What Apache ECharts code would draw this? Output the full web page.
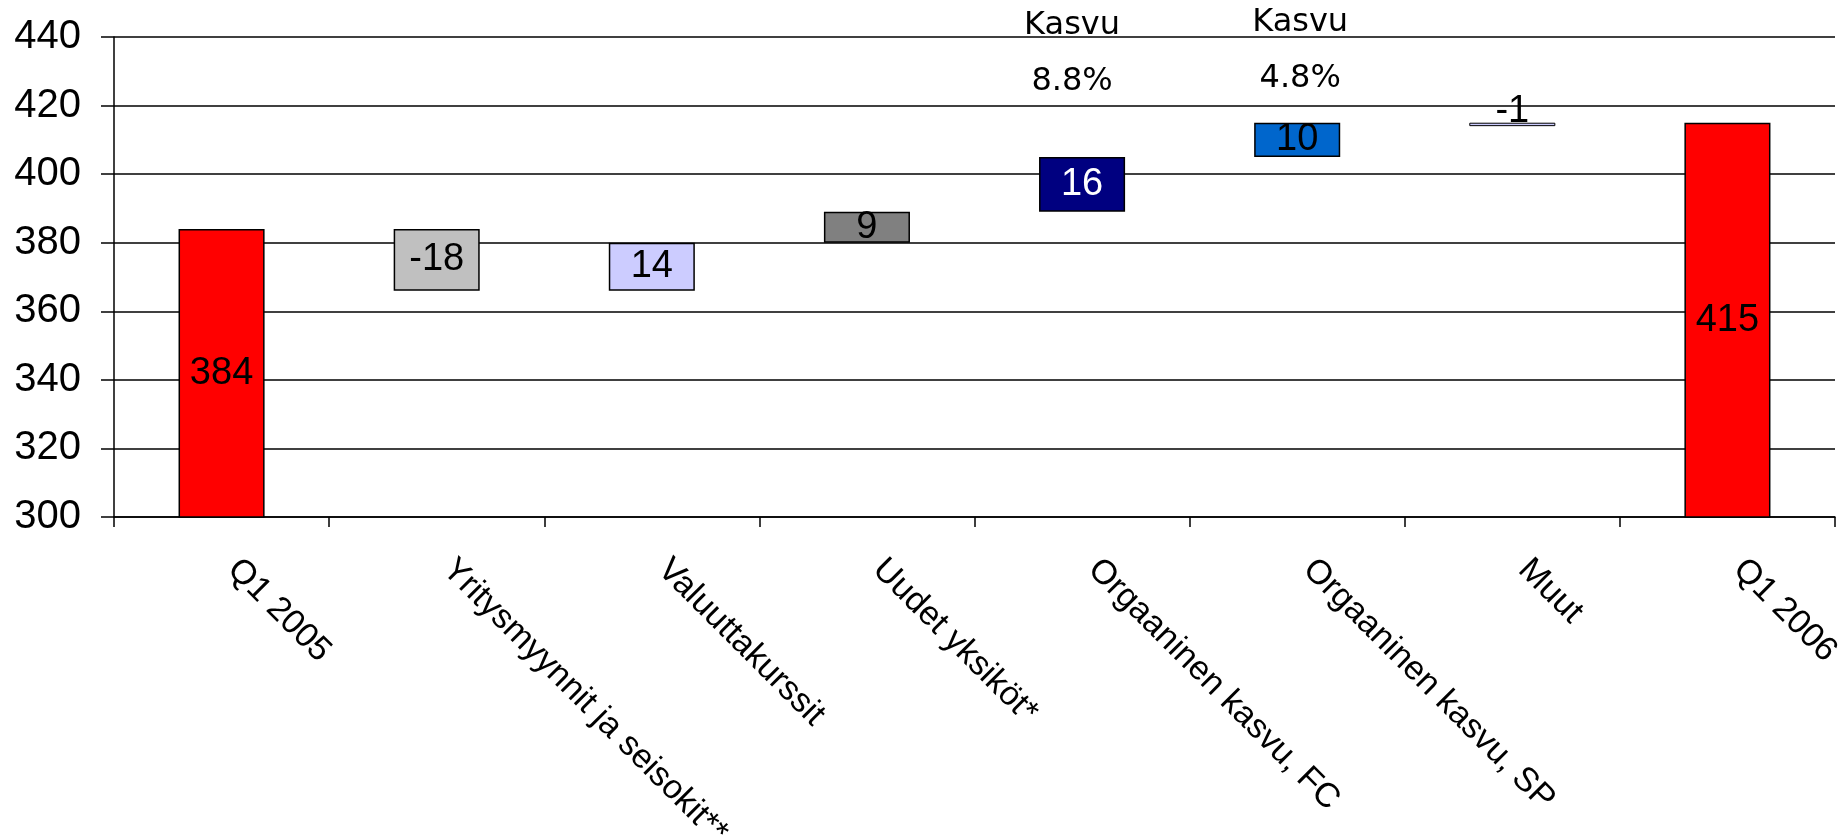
<!DOCTYPE html>
<html>
<head>
<meta charset="utf-8">
<script src="https://cdn.jsdelivr.net/npm/echarts@6/dist/echarts.min.js"></script>
<style>
html,body{margin:0;padding:0;background:#fff;}
#chart{width:1842px;height:835px;}
</style>
</head>
<body>
<div id="chart"></div>
<script>
// ---- data ----
const categories = ['Q1 2005', 'Yritysmyynnit ja seisokit**', 'Valuuttakurssit', 'Uudet yksiköt*', 'Orgaaninen kasvu, FC', 'Orgaaninen kasvu, SP', 'Muut', 'Q1 2006'];
const changes = [384, -18, 14, 9, 16, 10, -1, 415];
const isTotal = [true, false, false, false, false, false, false, true];
const barColors = ['#FF0000', '#C0C0C0', '#CCCCFF', '#808080', '#000080', '#0066CC', '#CCCCFF', '#FF0000'];
const labelColors = ['#000', '#000', '#000', '#000', '#fff', '#000', '#000', '#000'];
const yTicks = [300, 320, 340, 360, 380, 400, 420, 440];
const noteCategories = ['Orgaaninen kasvu, FC', 'Orgaaninen kasvu, SP'];
const noteTitles = ['Kasvu', 'Kasvu'];
const notePercents = ['8.8%', '4.8%'];
const noteValues = [435.1, 435.9];

// ---- derived waterfall pieces ----
const base = [], height = [];
let running = 0;
changes.forEach((v, i) => {
  if (isTotal[i]) { base.push(0); height.push(v); running = v; }
  else if (v >= 0) { base.push(running); height.push(v); running += v; }
  else { running += v; base.push(running); height.push(-v); }
});

const chart = echarts.init(document.getElementById('chart'));
const FONT = '"Liberation Sans", Arial, sans-serif';

chart.setOption({
  animation: false,
  backgroundColor: '#fff',
  grid: { left: 114, right: 7, top: 37, bottom: 318, containLabel: false, outerBoundsMode: 'none' },
  xAxis: {
    type: 'category',
    data: categories,
    boundaryGap: true,
    axisLine: { lineStyle: { color: '#000', width: 1.5 } },
    axisTick: { show: true, length: 10, lineStyle: { color: '#000', width: 1.5 }, alignWithLabel: false },
    axisLabel: {
      interval: 0, rotate: -45, margin: 36,
      padding: [0, 0, 0, 16],
      fontFamily: FONT, fontSize: 34, color: '#000'
    },
    splitLine: { show: false }
  },
  yAxis: {
    type: 'value',
    min: yTicks[0], max: yTicks[yTicks.length - 1], interval: 20,
    axisLine: { show: true, lineStyle: { color: '#000', width: 1.5 } },
    axisTick: { show: true, length: 13, lineStyle: { color: '#000', width: 1.5 } },
    axisLabel: { margin: 33, fontFamily: FONT, fontSize: 40, color: '#000' },
    splitLine: { show: true, lineStyle: { color: '#000', width: 1.5 } }
  },
  series: [
    {
      type: 'bar', stack: 'wf', data: base,
      itemStyle: { color: 'transparent', borderWidth: 0 },
      barWidth: '40%', silent: true
    },
    {
      type: 'bar', stack: 'wf', barWidth: '40%',
      data: height.map((h, i) => ({
        value: h,
        itemStyle: {
          color: barColors[i], borderColor: '#000',
          borderWidth: categories[i] === 'Muut' ? 1 : 1.5
        },
        label: {
          color: labelColors[i],
          offset: categories[i] === 'Muut' ? [0, -13] : [0, 0]
        }
      })),
      label: {
        show: true, position: 'inside',
        fontFamily: FONT, fontSize: 38,
        formatter: p => String(changes[p.dataIndex])
      },
      markPoint: {
        symbol: 'rect', symbolSize: 0,
        silent: true,
        data: noteCategories.map((c, i) => ({
          coord: [c, noteValues[i]],
          label: {
            show: true,
            formatter: noteTitles[i] + '\n' + notePercents[i],
            fontFamily: '"DejaVu Sans", Verdana, sans-serif',
            fontSize: 32, lineHeight: 56, color: '#000',
            align: 'center', verticalAlign: 'middle',
            offset: [i === 0 ? -10 : 3, 0]
          }
        }))
      }
    }
  ]
});
</script>
</body>
</html>
